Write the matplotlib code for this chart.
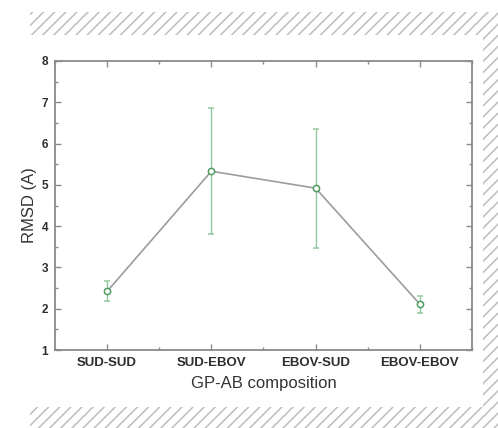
import numpy as np
import matplotlib
matplotlib.use('Agg')
import matplotlib.pyplot as plt
from matplotlib.patches import Rectangle
from matplotlib.ticker import MultipleLocator

# data
groups = ['SUD-SUD', 'SUD-EBOV', 'EBOV-SUD', 'EBOV-EBOV']
rmsd = [2.42, 5.33, 4.92, 2.11]
rmsd_err = [0.24, 1.52, 1.44, 0.21]

plt.rcParams['font.family'] = ['Liberation Sans', 'DejaVu Sans']
plt.rcParams['hatch.color'] = '#bdbdbd'
plt.rcParams['hatch.linewidth'] = 1.1

fig = plt.figure(figsize=(4.98, 4.28), dpi=100)
fig.patch.set_facecolor('white')

# hatched frame around the picture
for x0, y0, w, h in [(0.0602, 0.9182, 0.94, 0.0538),
                     (0.9699, 0.049, 0.0301, 0.8692),
                     (0.0602, 0.0, 0.94, 0.049)]:
    fig.add_artist(Rectangle((x0, y0), w, h, transform=fig.transFigure,
                             facecolor='white', edgecolor='#bdbdbd', hatch='///',
                             linewidth=0, zorder=0))

ax = fig.add_axes([0.1104, 0.1822, 0.8374, 0.6753])
x = np.arange(1, len(groups) + 1)

ax.plot(x, rmsd, color='#9c9c9c', lw=1.2, zorder=2)
ax.errorbar(x, rmsd, yerr=rmsd_err, fmt='o', ms=4.5, mfc='white', mec='#4f9d5f',
            mew=1.1, ecolor='#93c79f', elinewidth=1.0, capsize=2.5, capthick=1.0,
            zorder=3)

ax.set_xlim(0.5, 4.5)
ax.set_ylim(1, 8)
ax.set_xticks(x)
ax.set_xticklabels(groups, fontsize=9.5, fontweight='bold', color='#2e2e2e')
ax.xaxis.set_minor_locator(MultipleLocator(0.5))
ax.yaxis.set_major_locator(MultipleLocator(1))
ax.yaxis.set_minor_locator(MultipleLocator(0.5))
for lab in ax.get_yticklabels():
    lab.set_fontweight('bold')
ax.tick_params(axis='y', labelsize=8.5, labelcolor='#2e2e2e')
ax.tick_params(which='both', direction='in', top=True, right=True, color='#8a8a8a', width=1.0)
ax.tick_params(which='major', length=4, pad=5)
ax.tick_params(which='minor', length=2.5)
for s in ax.spines.values():
    s.set_color('#8a8a8a')
    s.set_linewidth(1.3)

ax.set_ylabel('RMSD (A)', fontsize=12, color='#333333', labelpad=3)
ax.set_xlabel('GP-AB composition', fontsize=12, color='#333333', labelpad=5)

fig.savefig('out.png', dpi=100)
